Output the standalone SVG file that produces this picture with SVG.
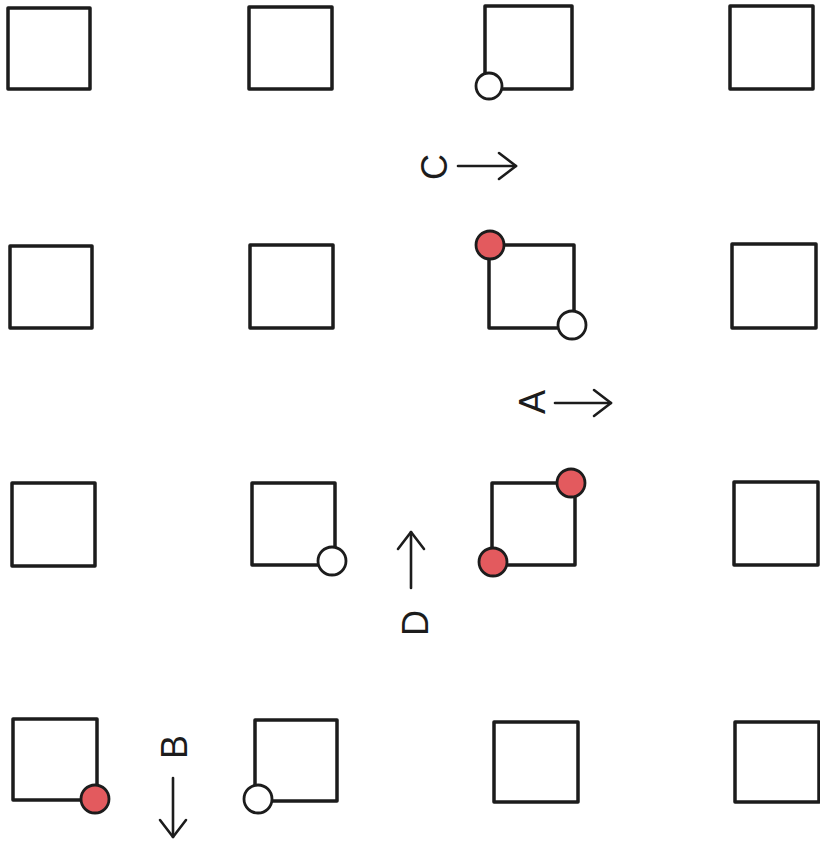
<svg xmlns="http://www.w3.org/2000/svg" width="820" height="850" viewBox="0 0 820 850">
<style>
.sq{fill:#fff;stroke:#1c1c1c;stroke-width:3.5;stroke-linejoin:round}
.dot{stroke:#1c1c1c;stroke-width:2.8}
.red{fill:#e35a5e}
.wht{fill:#fff}
.arr{stroke:#1c1c1c;stroke-width:2.6;fill:none;stroke-linecap:round;marker-end:url(#ah)}
.lbl{font-family:"Liberation Sans",Arial,sans-serif;font-size:36px;fill:#1c1c1c;text-anchor:middle;dominant-baseline:central}
</style>
<defs>
<marker id="ah" markerUnits="userSpaceOnUse" viewBox="-20 -16 24 32" markerWidth="24" markerHeight="32" refX="0" refY="0" orient="auto">
<path d="M-17,-13 L0,0 L-17,13" fill="none" stroke="#1c1c1c" stroke-width="2.6" stroke-linecap="round" stroke-linejoin="round"/>
</marker>
</defs>
<rect width="820" height="850" fill="#fff"/>
<g id="r1c1"><rect class="sq" x="8" y="8" width="82" height="81"/></g>
<g id="r1c2"><rect class="sq" x="249" y="7" width="83" height="82"/></g>
<g id="r1c3"><rect class="sq" x="485" y="6" width="87" height="83"/><circle class="dot wht" cx="489" cy="86" r="13"/></g>
<g id="r1c4"><rect class="sq" x="730" y="6" width="83" height="83"/></g>
<g id="r2c1"><rect class="sq" x="10" y="246" width="82" height="82"/></g>
<g id="r2c2"><rect class="sq" x="250" y="245" width="83" height="83"/></g>
<g id="r2c3"><rect class="sq" x="489" y="245" width="85" height="83"/><circle class="dot red" cx="490" cy="245" r="14"/><circle class="dot wht" cx="572" cy="325" r="14"/></g>
<g id="r2c4"><rect class="sq" x="732" y="244" width="84" height="84"/></g>
<g id="r3c1"><rect class="sq" x="12" y="483" width="83" height="83"/></g>
<g id="r3c2"><rect class="sq" x="252" y="483" width="83" height="82"/><circle class="dot wht" cx="332" cy="561" r="14"/></g>
<g id="r3c3"><rect class="sq" x="492" y="483" width="83" height="82"/><circle class="dot red" cx="571" cy="483" r="14"/><circle class="dot red" cx="493" cy="562" r="14"/></g>
<g id="r3c4"><rect class="sq" x="734" y="482" width="84" height="83"/></g>
<g id="r4c1"><rect class="sq" x="13" y="719" width="84" height="81"/><circle class="dot red" cx="95" cy="799" r="14"/></g>
<g id="r4c2"><rect class="sq" x="255" y="720" width="82" height="81"/><circle class="dot wht" cx="258" cy="799" r="14"/></g>
<g id="r4c3"><rect class="sq" x="494" y="722" width="84" height="80"/></g>
<g id="r4c4"><rect class="sq" x="735" y="722" width="84" height="80"/></g>
<g id="connectors">
<line class="arr" x1="458" y1="166" x2="516" y2="166"/>
<line class="arr" x1="555" y1="403" x2="611" y2="403"/>
<line class="arr" x1="411" y1="588" x2="411" y2="532"/>
<line class="arr" x1="173" y1="778" x2="173" y2="837"/>
</g>
<g id="labels">
<text class="lbl" transform="translate(434,167) rotate(-90)">C</text>
<text class="lbl" transform="translate(532,402) rotate(-90)">A</text>
<text class="lbl" transform="translate(415,623) rotate(-90)">D</text>
<text class="lbl" transform="translate(174,747) rotate(-90)">B</text>
</g>
</svg>
